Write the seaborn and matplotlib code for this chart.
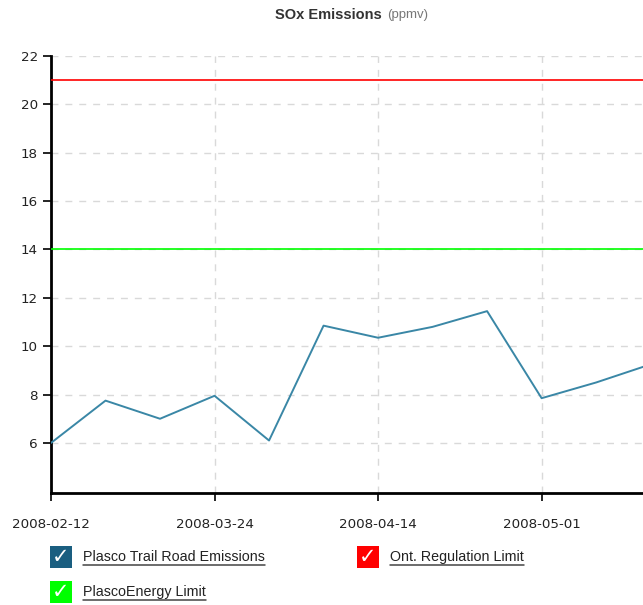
import matplotlib
matplotlib.use("Agg")
import matplotlib.pyplot as plt
from matplotlib.patches import Rectangle
from matplotlib.lines import Line2D
import seaborn as sns
import pandas as pd

# sample index (equally spaced samples) and SOx readings
sample = [0, 1, 2, 3, 4, 5, 6, 7, 8, 9, 10, 11]
sox = [6.0, 7.75, 7.0, 7.95, 6.1, 10.85, 10.35, 10.8, 11.45, 7.85, 8.5, 9.25]
tick_pos = [0, 3, 6, 9]
tick_labels = ["2008-02-12", "2008-03-24", "2008-04-14", "2008-05-01"]
ont_limit = 21
plasco_limit = 14

sns.set_style("white")
plt.rcParams['font.family'] = ['DejaVu Sans']

df = pd.DataFrame({"sample": sample, "sox": sox})

fig = plt.figure(figsize=(6.43, 6.05), dpi=100)
ax = fig.add_axes([51/643, 112/605, 592/643, 437/605])

ax.axhline(ont_limit, color="#ff0000", lw=1.2, zorder=3)
ax.axhline(plasco_limit, color="#00ff00", lw=1.2, zorder=3)
sns.lineplot(data=df, x="sample", y="sox", ax=ax, color="#3a87a6", lw=1.4, zorder=4)

ax.set_xlim(0, 10.86)
ax.set_ylim(3.93, 22)
ax.set_yticks(range(6, 23, 2))
ax.set_xticks(tick_pos)
ax.set_xticklabels(tick_labels)
ax.set_xlabel("")
ax.set_ylabel("")
ax.grid(True, color="#d9d9d9", ls=(0, (5, 5)), lw=1)
for s in ["top", "right"]:
    ax.spines[s].set_visible(False)
for s in ["left", "bottom"]:
    ax.spines[s].set_color("black")
    ax.spines[s].set_linewidth(2)
ax.tick_params(axis="both", direction="out", length=6, width=1.2, colors="black",
               labelsize=9.7, labelcolor="#222222", bottom=True, left=True)
ax.tick_params(axis="x", pad=12)

# title
fig.text(382/643, 1 - 15/605, "SOx Emissions", ha="right", va="center",
         fontsize=10.5, fontweight="bold", color="#333333", family="Liberation Sans")
fig.text(387/643, 1 - 15/605, "(ppmv)", ha="left", va="center",
         fontsize=9.5, color="#777777", family="Liberation Sans")

# legend with checkboxes
legend = [("Plasco Trail Road Emissions", "#1a5e80", 50, 557),
          ("Ont. Regulation Limit", "#ff0000", 357, 557),
          ("PlascoEnergy Limit", "#00ff00", 50, 592)]
texts = []
for label, col, x, y in legend:
    fig.patches.append(Rectangle((x/643, 1 - (y + 11)/605), 22/643, 22/605,
                                 transform=fig.transFigure, facecolor=col,
                                 edgecolor="none"))
    fig.text((x + 11)/643, 1 - y/605, "\u2713", ha="center", va="center",
             fontsize=15, color="white")
    t = fig.text((x + 33)/643, 1 - y/605, label, ha="left", va="center",
                 fontsize=10.3, color="#222222", family="Liberation Sans")
    texts.append(t)

fig.canvas.draw()
r = fig.canvas.get_renderer()
for t in texts:
    bb = t.get_window_extent(r)
    yy = bb.y0 - 1
    fig.lines.append(Line2D([bb.x0 / 643, bb.x1 / 643], [yy / 605, yy / 605],
                            transform=fig.transFigure, color="#444444", lw=1.1))

fig.savefig("out.png", dpi=100)
